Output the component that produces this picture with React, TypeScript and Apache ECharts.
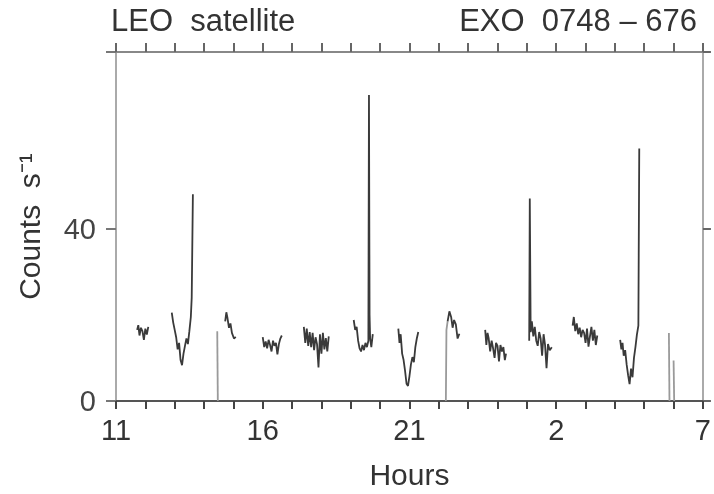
import React, { useEffect, useRef } from "react";
import * as echarts from "echarts";

// Hours since 11 h (x axis runs 11 → 7 next morning, i.e. 11 → 31)
const hourTicks = [11, 16, 21, 26, 31];
const hourTickLabels = ["11", "16", "21", "2", "7"];
const countTicks = [0, 40];

// Light-curve segments (one per satellite pass): [hour, counts s^-1]
const pass1 = [[11.72, 16.5], [11.76, 17.6], [11.8, 15.2], [11.85, 17.0], [11.9, 16.2], [11.95, 14.2], [12.0, 16.8], [12.05, 15.4], [12.1, 17.2]];
const pass2 = [[12.9, 20.5], [12.95, 18.2], [13.0, 16.5], [13.05, 14.8], [13.1, 12.0], [13.15, 13.5], [13.2, 9.5], [13.25, 8.3], [13.3, 11.0], [13.35, 12.8], [13.4, 14.5], [13.45, 13.2], [13.5, 16.2], [13.55, 19.5], [13.58, 24.0], [13.62, 48.0]];
const pass3 = [[14.72, 18.5], [14.76, 20.6], [14.8, 19.2], [14.85, 17.0], [14.9, 18.0], [14.95, 15.8], [15.02, 14.5], [15.08, 14.9]];
const pass4 = [[16.0, 14.8], [16.05, 12.5], [16.1, 13.8], [16.15, 12.2], [16.2, 14.2], [16.25, 13.0], [16.3, 11.5], [16.35, 14.0], [16.4, 12.8], [16.45, 13.5], [16.5, 10.8], [16.55, 13.2], [16.6, 14.5], [16.65, 15.2]];
const pass5 = [[17.4, 17.2], [17.45, 13.5], [17.5, 16.8], [17.55, 12.8], [17.6, 16.0], [17.65, 12.5], [17.7, 15.8], [17.75, 11.8], [17.8, 14.8], [17.85, 13.2], [17.9, 7.8], [17.95, 15.5], [18.0, 11.0], [18.05, 15.8], [18.1, 12.0], [18.15, 14.6], [18.2, 11.5], [18.25, 15.0]];
const pass6 = [[19.1, 18.8], [19.15, 16.5], [19.2, 17.2], [19.25, 14.0], [19.3, 12.2], [19.35, 11.5], [19.4, 13.0], [19.45, 11.8], [19.5, 13.5], [19.55, 12.5], [19.6, 14.0], [19.62, 71.0], [19.64, 20.0], [19.66, 14.5], [19.7, 12.5], [19.75, 15.5]];
const pass7 = [[20.62, 16.8], [20.66, 13.5], [20.7, 15.5], [20.75, 11.0], [20.8, 9.5], [20.85, 7.0], [20.9, 4.0], [20.95, 3.5], [21.0, 5.8], [21.05, 8.5], [21.1, 10.2], [21.15, 9.0], [21.2, 12.5], [21.25, 14.5], [21.3, 16.0]];
const pass8 = [[22.3, 18.5], [22.36, 20.8], [22.42, 19.5], [22.47, 17.0], [22.52, 18.8], [22.58, 17.8], [22.64, 14.5], [22.7, 15.6]];
const pass9 = [[23.58, 16.5], [23.62, 13.0], [23.66, 15.8], [23.7, 14.5], [23.75, 11.5], [23.8, 14.0], [23.85, 12.2], [23.9, 10.0], [23.95, 13.5], [24.0, 12.8], [24.05, 9.2], [24.1, 13.0], [24.15, 11.5], [24.2, 12.5], [24.25, 9.5], [24.29, 11.0]];
const pass10 = [[25.08, 14.0], [25.1, 47.0], [25.13, 16.0], [25.17, 18.5], [25.22, 15.0], [25.27, 17.2], [25.32, 14.0], [25.37, 12.8], [25.42, 16.0], [25.47, 14.5], [25.52, 10.5], [25.57, 15.5], [25.62, 13.0], [25.67, 7.6], [25.72, 13.2], [25.78, 11.8], [25.85, 12.5]];
const pass11 = [[26.56, 17.5], [26.6, 19.5], [26.65, 16.2], [26.7, 18.0], [26.75, 15.5], [26.8, 17.0], [26.85, 14.8], [26.9, 16.5], [26.95, 15.8], [27.0, 13.5], [27.05, 16.8], [27.1, 12.6], [27.15, 15.0], [27.2, 17.2], [27.25, 14.0], [27.3, 16.5], [27.35, 13.0], [27.4, 15.2]];
const pass12 = [[28.18, 14.2], [28.22, 12.0], [28.26, 13.5], [28.3, 10.5], [28.35, 11.8], [28.4, 8.5], [28.45, 6.0], [28.5, 3.9], [28.55, 7.5], [28.6, 5.5], [28.65, 10.0], [28.7, 12.5], [28.75, 15.4], [28.8, 17.5], [28.83, 58.6]];
const passes = [pass1, pass2, pass3, pass4, pass5, pass6, pass7, pass8, pass9, pass10, pass11, pass12];

// Pale data-gap strokes that drop to zero
const drop1 = [[14.45, 16.2], [14.47, 0]];
const drop2 = [[22.24, 0], [22.26, 16.5], [22.3, 18.5]];
const drop3 = [[29.84, 15.8], [29.86, 0]];
const drop4 = [[30.0, 9.4], [30.02, 0]];
const drops = [drop1, drop2, drop3, drop4];

const FONT = "Liberation Sans";
const Y_MAX = 81;

export default function App() {
  const ref = useRef<HTMLDivElement>(null);
  useEffect(() => {
    if (!ref.current) return;
    const chart = echarts.init(ref.current, undefined, { renderer: "svg" });
    const series: any[] = [];
    passes.forEach((p, i) =>
      series.push({
        type: "line",
        name: "pass" + (i + 1),
        data: p,
        showSymbol: false,
        lineStyle: { color: "#3a3a3a", width: 1.8 },
        z: 3,
      })
    );
    drops.forEach((d, i) =>
      series.push({
        type: "line",
        name: "drop" + (i + 1),
        data: d,
        showSymbol: false,
        lineStyle: { color: "#9a9a9a", width: 1.8 },
        z: 2,
      })
    );
    chart.setOption({
      animation: false,
      textStyle: { fontFamily: FONT },
      title: [
        { text: "LEO  satellite", left: 106, top: 0, textStyle: { fontFamily: FONT, fontSize: 31, fontWeight: "normal", color: "#333" } },
        { text: "EXO  0748 – 676", right: 12, top: 0, textStyle: { fontFamily: FONT, fontSize: 31, fontWeight: "normal", color: "#333" } },
      ],
      grid: { left: 116, right: 9, top: 52, bottom: 89 },
      xAxis: [
        {
          type: "value",
          position: "bottom",
          min: 11,
          max: 31,
          interval: 1,
          name: "Hours",
          nameLocation: "middle",
          nameGap: 58,
          nameTextStyle: { fontFamily: FONT, fontSize: 30, color: "#333" },
          axisLine: { show: true, onZero: false, lineStyle: { color: "#555", width: 2 } },
          axisTick: { show: true, inside: false, length: 8, lineStyle: { color: "#444", width: 2 } },
          axisLabel: {
            showMinLabel: true,
            showMaxLabel: true,
            margin: 14,
            fontFamily: FONT,
            fontSize: 29,
            color: "#333",
            formatter: (v: number) => {
              const i = hourTicks.indexOf(Math.round(v));
              return i >= 0 && Math.abs(v - hourTicks[i]) < 1e-6 ? hourTickLabels[i] : "";
            },
          },
          splitLine: { show: false },
        },
        {
          type: "value",
          position: "top",
          min: 11,
          max: 31,
          interval: 1,
          axisLine: { show: true, onZero: false, lineStyle: { color: "#888", width: 2 } },
          axisTick: { show: true, inside: false, length: 9, lineStyle: { color: "#666", width: 2 } },
          axisLabel: { show: false },
          splitLine: { show: false },
        },
      ],
      yAxis: [
        {
          type: "value",
          position: "left",
          min: 0,
          max: Y_MAX,
          interval: 40,
          name: "Counts  s⁻¹",
          nameLocation: "middle",
          nameGap: 72,
          nameTextStyle: { fontFamily: FONT, fontSize: 30, color: "#333" },
          axisLine: { show: true, onZero: false, lineStyle: { color: "#aaa", width: 2 } },
          axisTick: { show: true, inside: false, length: 10, customValues: [0, 40, Y_MAX], lineStyle: { color: "#777", width: 2 } },
          axisLabel: {
            margin: 20,
            fontFamily: FONT,
            fontSize: 29,
            color: "#444",
            customValues: countTicks,
            formatter: (v: number) => (countTicks.indexOf(v) >= 0 ? String(v) : ""),
          },
          splitLine: { show: false },
        },
        {
          type: "value",
          position: "right",
          min: 0,
          max: Y_MAX,
          interval: 40,
          axisLine: { show: true, onZero: false, lineStyle: { color: "#aaa", width: 2 } },
          axisTick: { show: true, inside: false, length: 8, customValues: [0, 40, Y_MAX], lineStyle: { color: "#666", width: 2 } },
          axisLabel: { show: false },
          splitLine: { show: false },
        },
      ],
      series,
    });
    return () => chart.dispose();
  }, []);
  return <div ref={ref} style={{ position: "fixed", left: 0, top: 0, width: 714, height: 494 }} />;
}
